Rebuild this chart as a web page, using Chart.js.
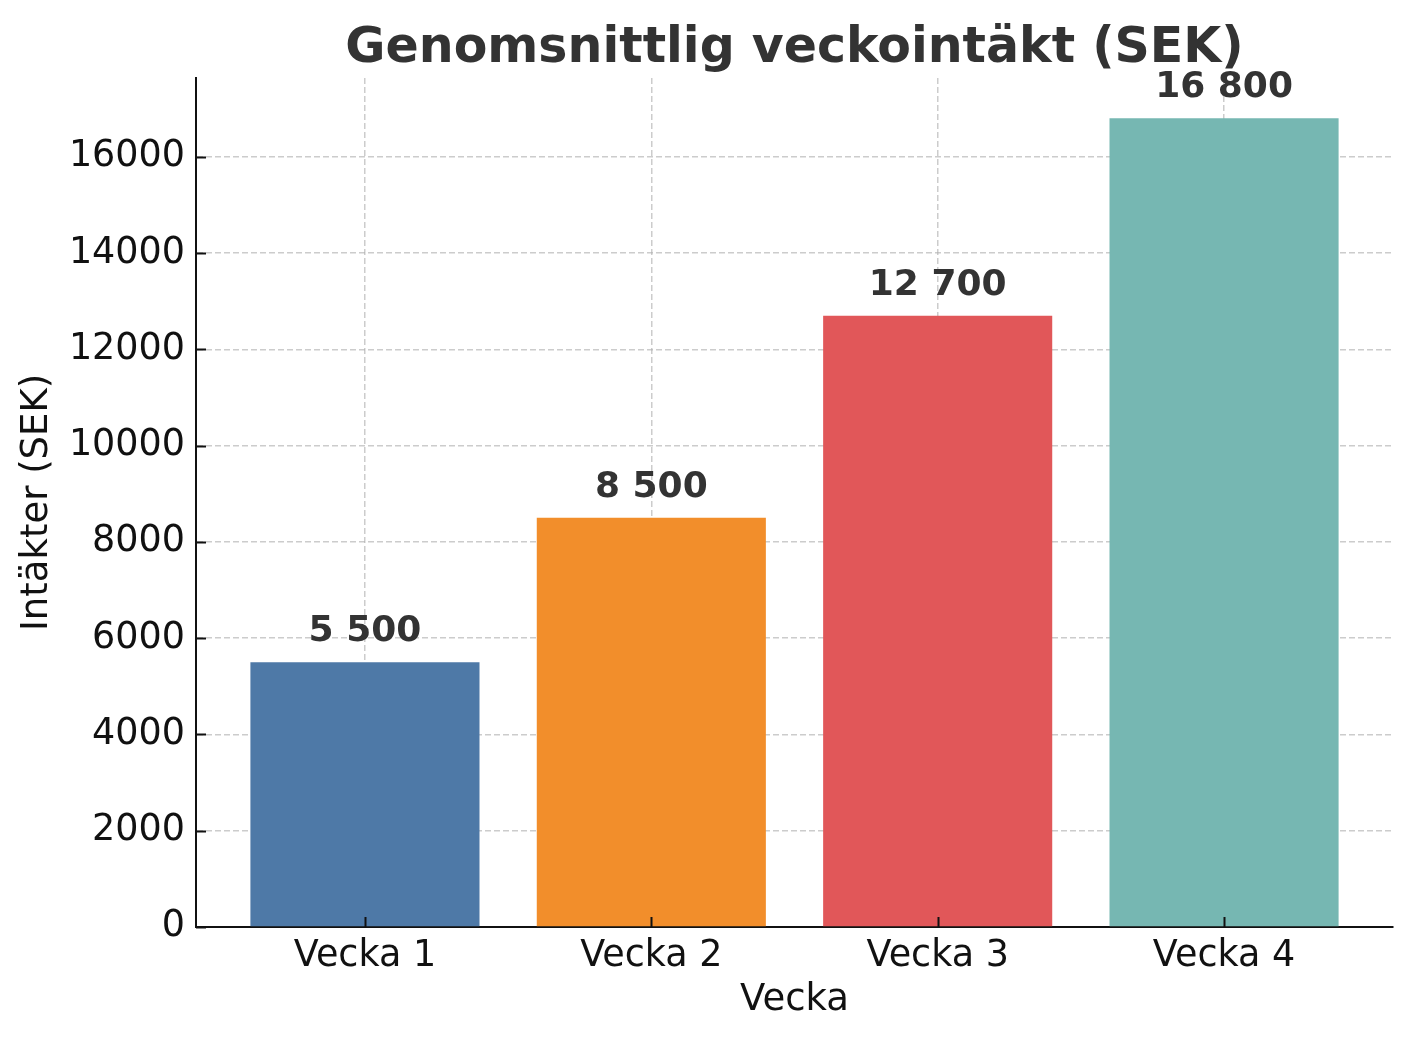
<!DOCTYPE html>
<html>
<head>
<meta charset="utf-8">
<script src="https://cdn.jsdelivr.net/npm/chart.js@4.4.1/dist/chart.umd.min.js"></script>
<style>
  html, body { margin: 0; padding: 0; background: #fff; }
  #wrap { width: 1414px; height: 1042px; }
</style>
</head>
<body>
<div id="wrap"><canvas id="chart_area" width="1414" height="1042"></canvas></div>
<script>
const weeks = ["Vecka 1", "Vecka 2", "Vecka 3", "Vecka 4"];
const revenue = [5500, 8500, 12700, 16800];
const barColors = ["#4e79a7", "#f28e2b", "#e15759", "#76b7b2"];
const yTicks = [0, 2000, 4000, 6000, 8000, 10000, 12000, 14000, 16000];

const FONT = "'DejaVu Sans', 'Liberation Sans', sans-serif";
const gridColor = "rgba(176,176,176,0.65)";

const fmtSpace = (v) => String(v).replace(/\B(?=(\d{3})+(?!\d))/g, " ");

// matplotlib style: ticks pointing into the plot, value labels on top
const innerTicks = {
  id: "innerTicks",
  afterDraw(chart) {
    const { ctx, chartArea, scales } = chart;
    ctx.save();
    ctx.strokeStyle = "#111";
    ctx.lineWidth = 2;
    scales.y.ticks.forEach((t) => {
      const py = Math.round(scales.y.getPixelForValue(t.value)) + 0.5;
      ctx.beginPath();
      ctx.moveTo(chartArea.left, py);
      ctx.lineTo(chartArea.left + 10, py);
      ctx.stroke();
    });
    scales.x.ticks.forEach((t) => {
      const px = Math.round(scales.x.getPixelForValue(t.value)) + 0.5;
      ctx.beginPath();
      ctx.moveTo(px, chartArea.bottom);
      ctx.lineTo(px, chartArea.bottom - 10);
      ctx.stroke();
    });
    ctx.restore();
  }
};

const valueLabels = {
  id: "valueLabels",
  afterDraw(chart) {
    const ctx = chart.ctx;
    ctx.save();
    ctx.font = "bold 36px " + FONT;
    ctx.fillStyle = "#333";
    ctx.textAlign = "center";
    ctx.textBaseline = "alphabetic";
    chart.getDatasetMeta(0).data.forEach((bar, i) => {
      ctx.fillText(fmtSpace(revenue[i]), bar.x, bar.y - 21);
    });
    ctx.restore();
  }
};

const ctx = document.getElementById("chart_area").getContext("2d");
const chart = new Chart(ctx, {
  type: "bar",
  data: {
    datasets: [{
      data: revenue.map((v, i) => ({ x: i, y: v })),
      backgroundColor: barColors,
      borderWidth: 0,
      barPercentage: 0.8,
      categoryPercentage: 1.0
    }]
  },
  plugins: [innerTicks, valueLabels],
  options: {
    responsive: false,
    animation: false,
    layout: { padding: { left: 0, right: 21, top: 0, bottom: 0 } },
    plugins: {
      legend: { display: false },
      tooltip: { enabled: false },
      title: {
        display: true,
        fullSize: false,
        text: "Genomsnittlig veckointäkt (SEK)",
        color: "#333",
        font: { family: FONT, size: 49, weight: "bold", lineHeight: 1.1 },
        padding: { top: 22, bottom: 2 }
      }
    },
    scales: {
      x: {
        type: "linear",
        min: -0.59,
        max: 3.59,
        offset: false,
        z: 1,
        afterBuildTicks: (scale) => { scale.ticks = weeks.map((w, i) => ({ value: i })); },
        afterFit: (scale) => { scale.height = 115; },
        ticks: {
          color: "#111",
          font: { family: FONT, size: 36.5 },
          padding: 8,
          maxRotation: 0,
          autoSkip: false,
          callback: (v) => weeks[v] ?? ""
        },
        grid: {
          offset: false,
          color: gridColor,
          lineWidth: 1.5,
          drawTicks: false
        },
        border: { display: true, color: "#111", width: 2, dash: [6, 3] },
        title: {
          display: true,
          text: "Vecka",
          color: "#111",
          font: { family: FONT, size: 37 },
          padding: { top: 0, bottom: 19 }
        }
      },
      y: {
        type: "linear",
        min: 0,
        max: 17640,
        z: 1,
        afterBuildTicks: (scale) => { scale.ticks = yTicks.map((v) => ({ value: v })); },
        afterFit: (scale) => { scale.width = 196; },
        ticks: {
          color: "#111",
          font: { family: FONT, size: 36.5 },
          padding: 11,
          callback: (v) => String(v)
        },
        grid: {
          color: gridColor,
          lineWidth: 1.5,
          drawTicks: false
        },
        border: { display: true, color: "#111", width: 2, dash: [6, 3] },
        title: {
          display: true,
          text: "Intäkter (SEK)",
          color: "#111",
          font: { family: FONT, size: 37 },
          padding: { top: 15, bottom: 0 }
        }
      }
    }
  }
});
</script>
</body>
</html>
